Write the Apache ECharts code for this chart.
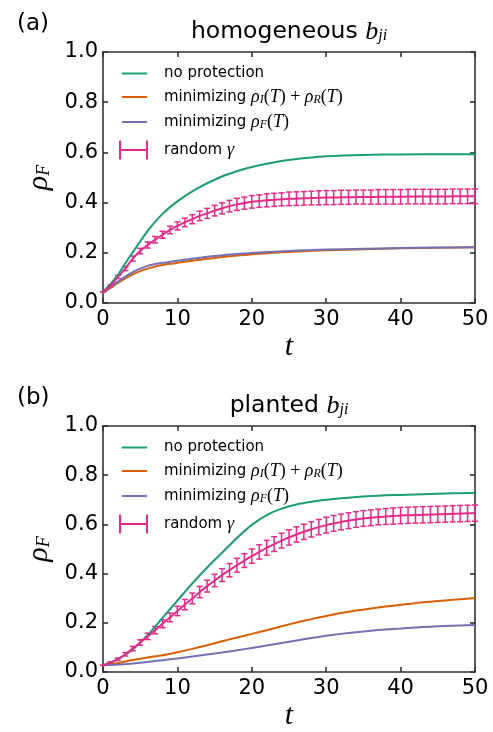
<!DOCTYPE html>
<html>
<head>
<meta charset="utf-8">
<script src="https://cdn.jsdelivr.net/npm/echarts@6/dist/echarts.min.js"></script>
<style>html,body{margin:0;padding:0;background:#fff;}#c{width:493px;height:732px;}</style>
</head>
<body>
<div id="c"></div>
<script>
// ---------- data ----------
const xTicks = [0, 10, 20, 30, 40, 50];
const yTicks = [0.0, 0.2, 0.4, 0.6, 0.8, 1.0];

// panel (a): homogeneous b_ji
const tLineA = [0,1,2,3,4,5,6,7,8,9,10,11,12,13,14,15,16,17,18,19,20,22,24,26,28,30,35,40,45,50];
const greenA = [0.045,0.075,0.112,0.158,0.202,0.245,0.287,0.323,0.355,0.382,0.405,0.426,0.445,0.462,0.477,0.491,0.504,0.515,0.525,0.534,0.542,0.555,0.566,0.574,0.580,0.585,0.590,0.592,0.593,0.593];
const orangeA = [0.040,0.060,0.080,0.098,0.114,0.127,0.137,0.145,0.151,0.156,0.160,0.164,0.168,0.172,0.176,0.179,0.183,0.186,0.189,0.191,0.194,0.198,0.202,0.205,0.208,0.210,0.214,0.218,0.220,0.222];
const purpleA = [0.040,0.063,0.085,0.105,0.123,0.137,0.148,0.155,0.160,0.164,0.168,0.172,0.176,0.180,0.184,0.187,0.190,0.193,0.195,0.197,0.199,0.203,0.206,0.209,0.211,0.213,0.216,0.219,0.221,0.222];
const tRand = [0,1,2,3,4,5,6,7,8,9,10,11,12,13,14,15,16,17,18,19,20,21,22,23,24,25,26,27,28,29,30,31,32,33,34,35,36,37,38,39,40,41,42,43,44,45,46,47,48,49,50];
const pinkA = [0.045,0.068,0.104,0.137,0.177,0.207,0.231,0.252,0.272,0.291,0.307,0.321,0.334,0.347,0.357,0.368,0.377,0.386,0.393,0.398,0.403,0.406,0.409,0.411,0.413,0.415,0.416,0.417,0.418,0.419,0.420,0.420,0.421,0.421,0.422,0.422,0.422,0.423,0.423,0.423,0.423,0.424,0.424,0.424,0.424,0.424,0.424,0.425,0.425,0.425,0.425];
const errA = [0,0.004,0.006,0.008,0.010,0.011,0.012,0.013,0.014,0.015,0.016,0.017,0.018,0.019,0.020,0.021,0.022,0.023,0.024,0.024,0.025,0.025,0.026,0.026,0.026,0.027,0.027,0.027,0.027,0.028,0.028,0.028,0.028,0.028,0.028,0.028,0.028,0.029,0.029,0.029,0.029,0.029,0.029,0.029,0.029,0.029,0.029,0.029,0.029,0.029,0.029];

// panel (b): planted b_ji
const tLineB = [0,2,4,6,8,10,12,14,16,18,20,22,24,26,28,30,32,34,36,38,40,42,44,46,48,50];
const greenB = [0.027,0.052,0.092,0.150,0.220,0.290,0.360,0.425,0.485,0.545,0.598,0.638,0.664,0.681,0.692,0.700,0.706,0.711,0.715,0.718,0.720,0.722,0.724,0.726,0.727,0.728];
const orangeB = [0.027,0.037,0.049,0.059,0.068,0.080,0.094,0.109,0.125,0.140,0.155,0.170,0.186,0.201,0.215,0.228,0.240,0.250,0.258,0.266,0.273,0.280,0.286,0.291,0.296,0.301];
const purpleB = [0.027,0.030,0.035,0.041,0.048,0.055,0.063,0.071,0.079,0.088,0.098,0.108,0.118,0.128,0.138,0.147,0.155,0.162,0.168,0.173,0.177,0.181,0.184,0.187,0.189,0.191];
const pinkB = [0.027,0.038,0.052,0.072,0.095,0.120,0.145,0.170,0.196,0.222,0.248,0.274,0.299,0.325,0.349,0.372,0.394,0.414,0.434,0.453,0.471,0.488,0.505,0.520,0.534,0.547,0.559,0.570,0.580,0.589,0.597,0.604,0.610,0.615,0.620,0.624,0.627,0.630,0.632,0.634,0.636,0.637,0.638,0.639,0.640,0.641,0.642,0.643,0.644,0.645,0.646];
const errB = [0,0.003,0.005,0.007,0.009,0.011,0.013,0.015,0.016,0.018,0.019,0.021,0.022,0.023,0.024,0.025,0.026,0.027,0.028,0.028,0.029,0.029,0.030,0.030,0.030,0.031,0.031,0.031,0.031,0.031,0.032,0.032,0.032,0.032,0.032,0.032,0.032,0.032,0.032,0.033,0.033,0.033,0.033,0.033,0.033,0.033,0.033,0.033,0.033,0.033,0.033];

const seriesNames = ['no protection', 'minimizing rhoI+rhoR', 'minimizing rhoF', 'random gamma'];
const colors = ['#1b9e77', '#d95f02', '#7570b3', '#e7298a'];
const panelTitles = ['homogeneous', 'planted'];
const panelTags = ['(a)', '(b)'];

// ---------- helpers ----------
const FONT = 'DejaVu Sans';
const MATH = 'Liberation Serif';
const zip = (xs, ys) => xs.map((x, i) => [x, ys[i]]);
const errData = (xs, ys, es) => xs.map((x, i) => [x, ys[i] - es[i], ys[i] + es[i]]);

const grids = [
  { left: 103, top: 52, width: 372, height: 251 },
  { left: 103, top: 426, width: 372, height: 250 }
];
const axisLineStyle = { color: '#333', width: 1.6 };

const xAxes = [], yAxes = [];
grids.forEach((g, gi) => {
  xAxes.push({
    gridIndex: gi, type: 'value', min: 0, max: 50, interval: 10, position: 'bottom',
    axisLine: { onZero: false, lineStyle: axisLineStyle },
    axisTick: { inside: true, length: 5, lineStyle: axisLineStyle },
    axisLabel: { fontFamily: FONT, fontSize: 21, color: '#000', margin: 6,
      formatter: v => xTicks.includes(v) ? String(v) : '' },
    splitLine: { show: false },
    name: 't', nameLocation: 'middle', nameGap: 29,
    nameTextStyle: { fontFamily: MATH, fontStyle: 'italic', fontSize: 30, color: '#000' }
  });
  xAxes.push({
    gridIndex: gi, type: 'value', min: 0, max: 50, interval: 10, position: 'top',
    axisLine: { onZero: false, lineStyle: axisLineStyle },
    axisTick: { inside: true, length: 5, lineStyle: axisLineStyle },
    axisLabel: { show: false }, splitLine: { show: false }
  });
  yAxes.push({
    gridIndex: gi, type: 'value', min: 0, max: 1, interval: 0.2, position: 'left',
    axisLine: { onZero: false, lineStyle: axisLineStyle },
    axisTick: { inside: true, length: 5, lineStyle: axisLineStyle },
    axisLabel: { fontFamily: FONT, fontSize: 21, color: '#000', margin: 5,
      formatter: v => v.toFixed(1) },
    splitLine: { show: false },
    name: '{r|ρ}{s|F}', nameLocation: 'middle', nameGap: 46, nameRotate: 90,
    nameTextStyle: {
      rich: {
        r: { fontFamily: MATH, fontStyle: 'italic', fontSize: 30, color: '#000', lineHeight: 30 },
        s: { fontFamily: MATH, fontStyle: 'italic', fontSize: 18, color: '#000', lineHeight: 30, padding: [12, 0, 0, 0] }
      }
    }
  });
  yAxes.push({
    gridIndex: gi, type: 'value', min: 0, max: 1, interval: 0.2, position: 'right',
    axisLine: { onZero: false, lineStyle: axisLineStyle },
    axisTick: { inside: true, length: 5, lineStyle: axisLineStyle },
    axisLabel: { show: false }, splitLine: { show: false }
  });
});

function lineSeries(name, color, data, gi) {
  return {
    name, type: 'line', data, xAxisIndex: gi * 2, yAxisIndex: gi * 2,
    symbol: 'none', smooth: 0.3, lineStyle: { color, width: 2 }, itemStyle: { color },
    animation: false
  };
}
function errSeries(name, color, data, gi) {
  return {
    name, type: 'custom', xAxisIndex: gi * 2, yAxisIndex: gi * 2, data, animation: false,
    itemStyle: { color },
    renderItem: (params, api) => {
      const x = api.value(0), lo = api.value(1), hi = api.value(2);
      const p1 = api.coord([x, lo]), p2 = api.coord([x, hi]);
      const w = 3;
      const st = { stroke: color, lineWidth: 1.5 };
      return {
        type: 'group', children: [
          { type: 'line', shape: { x1: p1[0], y1: p1[1], x2: p2[0], y2: p2[1] }, style: st },
          { type: 'line', shape: { x1: p1[0] - w, y1: p1[1], x2: p1[0] + w, y2: p1[1] }, style: st },
          { type: 'line', shape: { x1: p2[0] - w, y1: p2[1], x2: p2[0] + w, y2: p2[1] }, style: st }
        ]
      };
    }
  };
}

const series = [];
[[tLineA, greenA, orangeA, purpleA, pinkA, errA], [tLineB, greenB, orangeB, purpleB, pinkB, errB]].forEach((d, gi) => {
  const [tl, g, o, p, pk, er] = d;
  series.push(lineSeries(seriesNames[0], colors[0], zip(tl, g), gi));
  series.push(lineSeries(seriesNames[1], colors[1], zip(tl, o), gi));
  series.push(lineSeries(seriesNames[2], colors[2], zip(tl, p), gi));
  series.push(errSeries(seriesNames[3], colors[3], errData(tRand, pk, er), gi));
  series.push(lineSeries(seriesNames[3], colors[3], zip(tRand, pk), gi));
});

const legendRich = {
  t: { fontFamily: FONT, fontSize: 15, color: '#000', lineHeight: 18 },
  m: { fontFamily: MATH, fontStyle: 'italic', fontSize: 18, color: '#000', lineHeight: 18 },
  u: { fontFamily: MATH, fontSize: 18, color: '#000', lineHeight: 18 },
  s: { fontFamily: MATH, fontStyle: 'italic', fontSize: 12, color: '#000', lineHeight: 12, verticalAlign: 'bottom' }
};
const legendLabels = {
  'no protection': '{t|no protection}',
  'minimizing rhoI+rhoR': '{t|minimizing }{m|ρ}{s|I}{u|(}{m|T}{u|) + }{m|ρ}{s|R}{u|(}{m|T}{u|)}',
  'minimizing rhoF': '{t|minimizing }{m|ρ}{s|F}{u|(}{m|T}{u|)}',
  'random gamma': '{t|random }{m|γ}'
};
const legends = [];
const titles = [];
grids.forEach((g, gi) => {
  legends.push({
    orient: 'vertical', left: 122, top: g.top + 14, padding: 0, itemWidth: 25, itemHeight: 2, itemGap: 7,
    data: seriesNames.slice(0, 3).map(n => ({ name: n, icon: 'rect' })), selectedMode: false,
    formatter: n => legendLabels[n],
    textStyle: { padding: [0, 0, 0, 12], rich: legendRich }
  });
  legends.push({
    orient: 'vertical', left: 119, top: g.top + 88.5, padding: 0, itemWidth: 29, itemHeight: 19,
    data: [{ name: seriesNames[3], icon: 'path://M0,0h2v19h-2zM0,8.5h29v2h-29zM27,0h2v19h-2z', itemStyle: { color: colors[3] } }],
    selectedMode: false,
    formatter: n => legendLabels[n],
    textStyle: { padding: [0, 0, 0, 11], rich: legendRich }
  });
  titles.push({
    text: '{a|' + panelTitles[gi] + ' }{b|b}{c|ji}',
    left: g.left + g.width / 2, top: g.top - 32, textAlign: 'center', padding: 0,
    textStyle: { fontWeight: 'normal', rich: {
      a: { fontFamily: FONT, fontSize: 23.5, fontWeight: 'normal', color: '#000', lineHeight: 24 },
      b: { fontFamily: MATH, fontStyle: 'italic', fontWeight: 'normal', fontSize: 26, color: '#000', lineHeight: 24 },
      c: { fontFamily: MATH, fontStyle: 'italic', fontWeight: 'normal', fontSize: 16, color: '#000', lineHeight: 14, verticalAlign: 'bottom' }
    } }
  });
  titles.push({
    text: panelTags[gi], left: 12, top: g.top - 44,
    textStyle: { fontFamily: FONT, fontSize: 23, fontWeight: 'normal', color: '#000' }
  });
});

const chart = echarts.init(document.getElementById('c'), null, { renderer: 'canvas' });
chart.setOption({
  backgroundColor: '#fff',
  animation: false,
  title: titles,
  legend: legends,
  grid: grids,
  xAxis: xAxes,
  yAxis: yAxes,
  series
});
</script>
</body>
</html>
